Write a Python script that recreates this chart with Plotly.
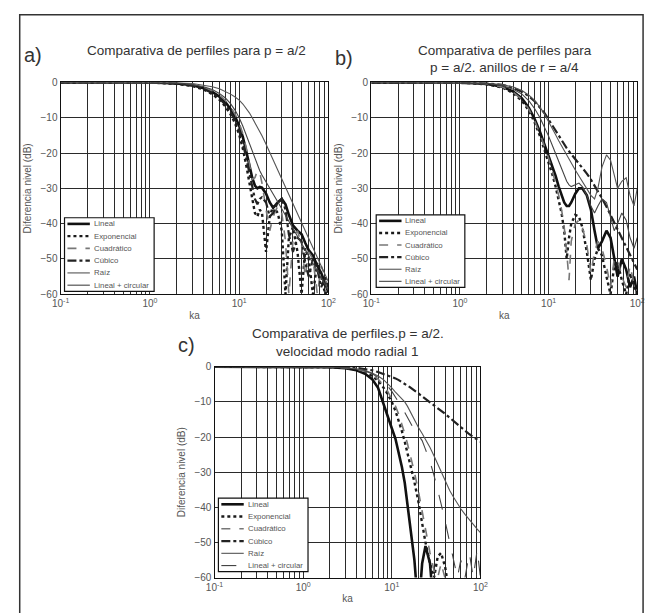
import plotly.graph_objects as go

W, H = 654, 613

KA = [0.1, 1, 2, 3, 4, 5, 6, 7, 8, 9, 10, 11, 12, 13, 14, 15, 16, 17, 18, 20, 22, 24,
      27, 30, 33, 36, 40, 45, 50, 55, 60, 67, 75, 83, 92, 100]

SERIES = ["Lineal", "Exponencial", "Cuadrático", "Cúbico", "Raíz", "Lineal + circular"]

# ---- panel a) ----
a_lineal = [0, 0, -0.3, -0.8, -1.6, -2.7, -4, -5.6, -7.5, -9.7, -12.3, -15.5, -19.5, -23.5, -27, -29.2,
            -30, -29.6, -29.8, -31.5, -34, -35.5, -34, -33, -34.5, -37.5, -40.5, -42, -43, -45.5,
            -47.5, -49, -52, -54, -57, -59.5]
a_expo = [0, 0, -0.4, -1, -2, -3.3, -4.9, -6.8, -9, -11.6, -14.8, -18.8, -23.5, -28.5, -33, -37,
          -38, -36, -37, -48, -38, -35, -37, -42, -60, -44, -41, -48, -60, -47, -50, -60, -51, -55,
          -60, -58]
a_cuad = [0, 0, -0.2, -0.7, -1.4, -2.4, -3.6, -5.1, -6.9, -9, -11.5, -14.6, -18.5, -23, -27.5, -27,
          -25, -25.5, -28.5, -36, -42, -38, -35, -37, -45, -60, -45, -42, -46, -55, -48, -50, -60,
          -52, -55, -60]
a_cub = [0, 0, -0.3, -0.9, -1.8, -3, -4.5, -6.3, -8.4, -10.8, -13.7, -17.2, -21.5, -26, -30, -33,
         -34.5, -33, -32.5, -34, -38, -37, -34, -33, -36, -43, -48, -44, -45, -51, -55, -50, -53,
         -58, -55, -58]
a_raiz = [0, 0, 0, -0.3, -0.7, -1.2, -1.8, -2.5, -3.3, -4.1, -5, -6.1, -7.3, -8.6, -10, -11.3,
          -12.6, -13.9, -15.1, -17.5, -19.8, -21.9, -24.7, -27.2, -29.4, -31.4, -33.9, -36.8,
          -39.4, -41.8, -44, -46.8, -49.6, -52, -54.5, -56.5]
a_circ = [0, 0, -0.2, -0.6, -1.2, -2, -3.1, -4.4, -6, -7.9, -10, -12.4, -15, -17.5, -19.8, -21.8,
          -23.5, -25, -26.2, -28.3, -30, -31.6, -33.8, -35.8, -37.6, -39.2, -41.2, -43.5, -45.5,
          -47.3, -49, -51.2, -53.4, -55.3, -57.3, -59]

# ---- panel b) ----
b_lineal = [0, 0, -0.4, -1.2, -2.6, -4.5, -7.2, -10.5, -14, -17.5, -20.5, -23.5, -26.5, -29.5, -32,
            -34, -35, -35, -34, -31.5, -30, -30, -32, -36, -42, -47, -45, -42, -44, -50, -55, -50,
            -53, -58, -55, -60]
b_expo = [0, 0, -0.5, -1.4, -3, -5.2, -8, -11.5, -15.2, -19, -22.5, -26, -29.5, -33, -37, -42, -50,
          -44, -40, -37.5, -38, -41, -48, -56, -50, -47, -49, -55, -60, -52, -51, -56, -60, -54,
          -58, -60]
b_cuad = [0, 0, -0.4, -1.3, -2.8, -4.8, -7.6, -11, -14.6, -18.2, -21.5, -25, -28.5, -32, -36, -41,
          -48, -56, -45, -40, -39, -41, -46, -54, -48, -45, -47, -52, -58, -50, -50, -55, -58, -52,
          -57, -59]
b_cub = [0, 0, -0.2, -0.7, -1.5, -2.6, -3.9, -5.4, -7, -8.7, -10.5, -12.2, -13.8, -15.2, -16.5,
         -17.6, -18.6, -19.5, -20.3, -21.5, -22.8, -24, -25.8, -27.5, -29.2, -30.8, -32.8, -35.2,
         -37.5, -39.6, -41.5, -44, -46.5, -48.7, -51, -53]
b_raiz = [0, 0, -0.2, -0.6, -1.3, -2.3, -3.6, -5.2, -7, -9, -11, -13, -14.8, -16.5, -18, -19.3,
          -20.5, -21.7, -22.8, -24.8, -26.5, -28, -30, -32, -33, -30, -24, -20.5, -22, -26, -30,
          -28, -27, -32, -35, -30]
b_circ = [0, 0, -0.3, -0.9, -1.9, -3.3, -5.2, -7.5, -10, -12.6, -15.2, -17.8, -20.3, -22.6, -24.7,
          -26.5, -28, -29, -29.5, -29, -28.5, -29.5, -32, -35, -37, -35, -33, -34, -38, -42, -40,
          -37, -39, -44, -47, -44]

# ---- panel c) ----
c_lineal = [0, 0, -0.1, -0.4, -1, -2, -3.5, -6, -10.5, -14, -17.5, -20.5, -24.5, -28.5, -33, -39,
            -45, -50, -55, -70, -56, -51, -56, -70, -80, -80, -80, -80, -80, -80, -80, -80, -80,
            -80, -80, -80]
c_expo = [0, 0, -0.1, -0.3, -0.8, -1.5, -2.6, -4, -5.8, -7.8, -10, -12.5, -15.3, -18.3, -21.3,
          -24.3, -27.2, -30, -32.8, -38.5, -44.5, -50, -56, -60, -54, -53, -57, -65, -80, -80, -80,
          -80, -80, -80, -80, -80]
c_cuad = [0, 0, -0.1, -0.3, -0.7, -1.3, -2.2, -3.5, -5.1, -7, -9, -11.2, -13.6, -16.2, -19, -21.8,
          -24.6, -27.3, -30, -35.5, -41, -46.5, -53, -58, -60, -56, -60, -65, -80, -80, -80, -80,
          -80, -80, -80, -80]
c_cub = [0, 0, 0, -0.1, -0.3, -0.6, -1, -1.5, -2, -2.4, -2.8, -3.3, -3.8, -4.3, -4.8, -5.3, -5.8,
         -6.3, -6.7, -7.6, -8.4, -9.1, -10, -10.9, -11.7, -12.5, -13.4, -14.5, -15.5, -16.4, -17.2,
         -18.2, -19.2, -20, -20.8, -21.3]
c_raiz = [0, 0, 0, -0.2, -0.6, -1.1, -1.8, -2.6, -3.6, -4.8, -6, -7.2, -8.2, -9.1, -10, -11.2,
          -12.6, -14, -15.3, -17.3, -19, -20.6, -23, -25.4, -27.7, -30.2, -32.6, -35.2, -37.2,
          -38.9, -40.4, -42, -43.6, -45, -46.2, -47.2]
c_circ = [0, 0, 0, -0.2, -0.6, -1.2, -2, -3, -4.2, -5.5, -7, -8.5, -10, -11.5, -13, -14.5, -15.8,
          -17, -18, -19.5, -21, -23.5, -27, -31, -35, -39, -44, -50, -56, -60, -55, -60, -53, -60,
          -52, -60]

PANELS = [
    ("a", [a_lineal, a_expo, a_cuad, a_cub, a_raiz, a_circ]),
    ("b", [b_lineal, b_expo, b_cuad, b_cub, b_raiz, b_circ]),
    ("c", [c_lineal, c_expo, c_cuad, c_cub, c_raiz, c_circ]),
]

X_TICKS = [0.1, 1, 10, 100]
X_TICKTEXT = ["10<sup>-1</sup>", "10<sup>0</sup>", "10<sup>1</sup>", "10<sup>2</sup>"]
Y_TICKS = [0, -10, -20, -30, -40, -50, -60]
Y_TICKTEXT = ["0", "−10", "−20", "−30", "−40", "−50", "−60"]

STYLES = {
    "Lineal": dict(color="#111111", width=2.6, dash="solid"),
    "Exponencial": dict(color="#1a1a1a", width=2.4, dash="dot"),
    "Cuadrático": dict(color="#777777", width=1.6, dash="dash"),
    "Cúbico": dict(color="#222222", width=2.2, dash="dashdot"),
    "Raíz": dict(color="#555555", width=1.1, dash="solid"),
    "Lineal + circular": dict(color="#444444", width=1.1, dash="solid"),
}


def px_x(p):
    return p / W


def px_y(p):
    return 1 - p / H


# plot-area rectangles in pixels: (left, right, top, bottom)
BOXES = {"a": (53, 328, 78, 294), "b": (372, 645, 78, 294), "c": (211, 484, 368, 583)}
# legend boxes in pixels: (left, right, top, bottom)
LEG_BOXES = {"a": (57, 149, 216, 291), "b": (377, 468, 213, 287), "c": (215, 307, 502, 577)}

fig = go.Figure()
axis_ids = {"a": ("x", "y"), "b": ("x2", "y2"), "c": ("x3", "y3")}


def panel_style(key, name):
    st = dict(STYLES[name])
    if key == "c" and name == "Lineal + circular":
        st["dash"] = "longdash"
    return st


for key, data in PANELS:
    xa, ya = axis_ids[key]
    for name, vals in zip(SERIES, data):
        fig.add_trace(go.Scatter(x=KA, y=vals, mode="lines", name=name,
                                 line=panel_style(key, name),
                                 xaxis=xa, yaxis=ya, showlegend=False))

font_fam = "Liberation Sans, Arial, sans-serif"
GRID = "#2a2a2a"
layout = dict(width=W, height=H, margin=dict(l=0, r=0, t=0, b=0),
              paper_bgcolor="white", plot_bgcolor="white",
              font=dict(family=font_fam, color="#333"), showlegend=False)

for key, (l, r, t, b) in BOXES.items():
    xa, ya = axis_ids[key]
    xname = "xaxis" if xa == "x" else "xaxis" + xa[1:]
    yname = "yaxis" if ya == "y" else "yaxis" + ya[1:]
    layout[xname] = dict(type="log", range=[-1, 2], domain=[px_x(l), px_x(r)],
                         anchor=ya, tickvals=X_TICKS, ticktext=X_TICKTEXT,
                         showgrid=True, gridcolor=GRID, gridwidth=1.3,
                         minor=dict(dtick="D1", showgrid=True, gridcolor=GRID, gridwidth=1.2,
                                    ticks="inside", ticklen=3, tickcolor="#333"),
                         showline=True, mirror=True, linecolor="#111", linewidth=1.3,
                         ticks="inside", ticklen=4, tickcolor="#333",
                         tickfont=dict(size=10, color="#555"),
                         title=dict(text="ka", font=dict(size=10, color="#555"), standoff=3),
                         zeroline=False)
    layout[yname] = dict(range=[-60, 0], domain=[px_y(b), px_y(t)], anchor=xa,
                         tickvals=Y_TICKS, ticktext=Y_TICKTEXT,
                         showgrid=True, gridcolor=GRID, gridwidth=1.3,
                         showline=True, mirror=True, linecolor="#111", linewidth=1.3,
                         ticks="inside", ticklen=4, tickcolor="#333",
                         tickfont=dict(size=10, color="#555"),
                         title=dict(text="Diferencia nivel (dB)", font=dict(size=10, color="#555"),
                                    standoff=6),
                         zeroline=False)

fig.update_layout(**layout)

# hand-drawn legends (compact, as in the reference)
for key, (l, r, t, b) in LEG_BOXES.items():
    fig.add_shape(type="rect", xref="paper", yref="paper", x0=px_x(l), x1=px_x(r),
                  y0=px_y(b), y1=px_y(t), line=dict(color="#111", width=1.2),
                  fillcolor="white", layer="above")
    step = (b - t) / 6.0
    for i, name in enumerate(SERIES):
        yc = t + step * (i + 0.5)
        st = panel_style(key, name)
        fig.add_shape(type="line", xref="paper", yref="paper", x0=px_x(l + 3), x1=px_x(l + 26),
                      y0=px_y(yc), y1=px_y(yc), layer="above",
                      line=dict(color=st["color"], width=st["width"], dash=st["dash"]))
        fig.add_annotation(xref="paper", yref="paper", x=px_x(l + 28), y=px_y(yc),
                           xanchor="left", yanchor="middle", showarrow=False, text=name,
                           font=dict(family=font_fam, size=7.8, color="#555"))

annotations = [
    dict(text="a)", x=px_x(13), y=px_y(50), xanchor="left", font_size=20),
    dict(text="Comparativa de perfiles para p = a/2", x=px_x(192), y=px_y(45), font_size=13.5),
    dict(text="b)", x=px_x(333), y=px_y(53), xanchor="left", font_size=20),
    dict(text="Comparativa de perfiles para", x=px_x(509), y=px_y(45), font_size=13.5),
    dict(text="p = a/2. anillos de r = a/4", x=px_x(509), y=px_y(63), font_size=13.5),
    dict(text="c)", x=px_x(171), y=px_y(346), xanchor="left", font_size=20),
    dict(text="Comparativa de perfiles.p = a/2.", x=px_x(348), y=px_y(334), font_size=13.5),
    dict(text="velocidad modo radial 1", x=px_x(348), y=px_y(352), font_size=13.5),
]
for an in annotations:
    an.setdefault("xanchor", "center")
    an.setdefault("yanchor", "middle")
    fig.add_annotation(xref="paper", yref="paper", showarrow=False,
                       font=dict(family=font_fam, color="#333", size=an.pop("font_size")), **an)

fig.add_shape(type="rect", xref="paper", yref="paper", x0=px_x(11), x1=px_x(651),
              y0=px_y(630), y1=px_y(9), line=dict(color="#333", width=1.5))

fig.write_html("out.html")
